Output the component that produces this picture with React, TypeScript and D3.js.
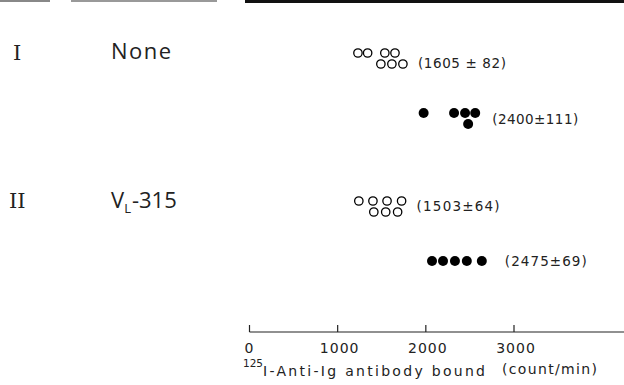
import React from "react";
import * as d3 from "d3";

// experiment rows
const groups = ["I", "II"];
const treatments = ["None", "VL-315"];

// individual counts (count/min), tier = stacked row in the dot plot
const openI = [1230, 1340, 1535, 1650, 1490, 1615, 1740];
const openITier = [0, 0, 0, 0, 1, 1, 1];
const filledI = [1975, 2320, 2445, 2560, 2480];
const filledITier = [0, 0, 0, 0, 1];
const openII = [1240, 1400, 1560, 1725, 1410, 1545, 1680];
const openIITier = [0, 0, 0, 0, 1, 1, 1];
const filledII = [2070, 2195, 2330, 2465, 2635];
const filledIITier = [0, 0, 0, 0, 0];

const meanLabels = ["(1605 ± 82)", "(2400±111)", "(1503±64)", "(2475±69)"];
const ticks = [0, 1000, 2000, 3000];

const width = 624;
const height = 385;
const sans = "'DejaVu Sans', sans-serif";

const App = () => {
  const x = d3.scaleLinear().domain([0, 3000]).range([249.5, 514]);
  const y = d3.scalePoint().domain(groups).range([83, 231]);
  const axisY = 332;
  const tierStep = 11;

  const series = [
    { g: "I", vals: openI, tiers: openITier, filled: false, label: meanLabels[0], gap: 15, len: 88, dy: 4 },
    { g: "I", vals: filledI, tiers: filledITier, filled: true, label: meanLabels[1], gap: 17, len: 86, dy: 0 },
    { g: "II", vals: openII, tiers: openIITier, filled: false, label: meanLabels[2], gap: 15, len: 83, dy: -1 },
    { g: "II", vals: filledII, tiers: filledIITier, filled: true, label: meanLabels[3], gap: 23, len: 82, dy: 0 },
  ];

  return (
    <svg
      width={width}
      height={height}
      style={{ position: "absolute", left: 0, top: 0, background: "#fff" }}
    >
      {/* table header rules, cut off at the top */}
      <line x1={0} x2={50} y1={1} y2={1} stroke="#888" strokeWidth={2} />
      <line x1={71} x2={217} y1={1} y2={1} stroke="#999" strokeWidth={2} />
      <line x1={245} x2={624} y1={1.5} y2={1.5} stroke="#111" strokeWidth={3} />

      {groups.map((g, i) => {
        const top = (y(g) as number) - 30;
        return (
          <g key={g}>
            <text
              x={g === "I" ? 13 : 9}
              y={top + 7}
              fontFamily="'DejaVu Serif', serif"
              fontSize={21}
              fill="#222"
            >
              {g}
            </text>
            {i === 0 ? (
              <text x={111} y={top + 6} fontFamily="'Open Sans', sans-serif" fontSize={22} fill="#222" textLength={60}>
                {treatments[i]}
              </text>
            ) : (
              <text x={111} y={top + 7} fontFamily="'Open Sans', sans-serif" fontSize={22} fill="#222">
                V<tspan fontSize={13} dy={5}>L</tspan>
                <tspan dy={-5} dx={1}>-315</tspan>
              </text>
            )}
          </g>
        );
      })}

      {series.map((s, si) => {
        const base = (y(s.g) as number) + (s.filled ? 30 : -30);
        const maxX = x(d3.max(s.vals) as number);
        const mid = base + ((d3.max(s.tiers) as number) * tierStep) / 2;
        return (
          <g key={si}>
            {s.vals.map((v, j) => (
              <circle
                key={j}
                cx={x(v)}
                cy={base + s.tiers[j] * tierStep}
                r={s.filled ? 5 : 4.2}
                fill={s.filled ? "#000" : "none"}
                stroke="#000"
                strokeWidth={s.filled ? 0 : 1.3}
              />
            ))}
            <text
              x={maxX + s.gap}
              y={mid + s.dy + 5}
              fontFamily={sans}
              fontSize={13.5}
              fill="#222"
              textLength={s.len}
              lengthAdjust="spacing"
            >
              {s.label}
            </text>
          </g>
        );
      })}

      {/* x axis */}
      <line x1={x(0)} x2={width} y1={axisY} y2={axisY} stroke="#222" strokeWidth={1.2} />
      {ticks.map((t) => (
        <g key={t}>
          <line x1={x(t)} x2={x(t)} y1={axisY} y2={axisY - 7} stroke="#222" strokeWidth={1.2} />
          <text
            x={x(t) + (t === 0 ? -0.5 : 2)}
            y={353}
            textAnchor="middle"
            fontFamily={sans}
            fontSize={14}
            fill="#222"
            letterSpacing={t === 0 ? 0 : 1}
          >
            {t}
          </text>
        </g>
      ))}
      <text x={243} y={367} fontFamily={sans} fontSize={10.5} fill="#222">
        125
      </text>
      <text x={263} y={376} fontFamily={sans} fontSize={14} fill="#222" textLength={222} lengthAdjust="spacing">
        I-Anti-Ig antibody bound
      </text>
      <text x={502} y={374} fontFamily={sans} fontSize={14} fill="#222" textLength={95} lengthAdjust="spacing">
        (count/min)
      </text>
    </svg>
  );
};

export default App;
